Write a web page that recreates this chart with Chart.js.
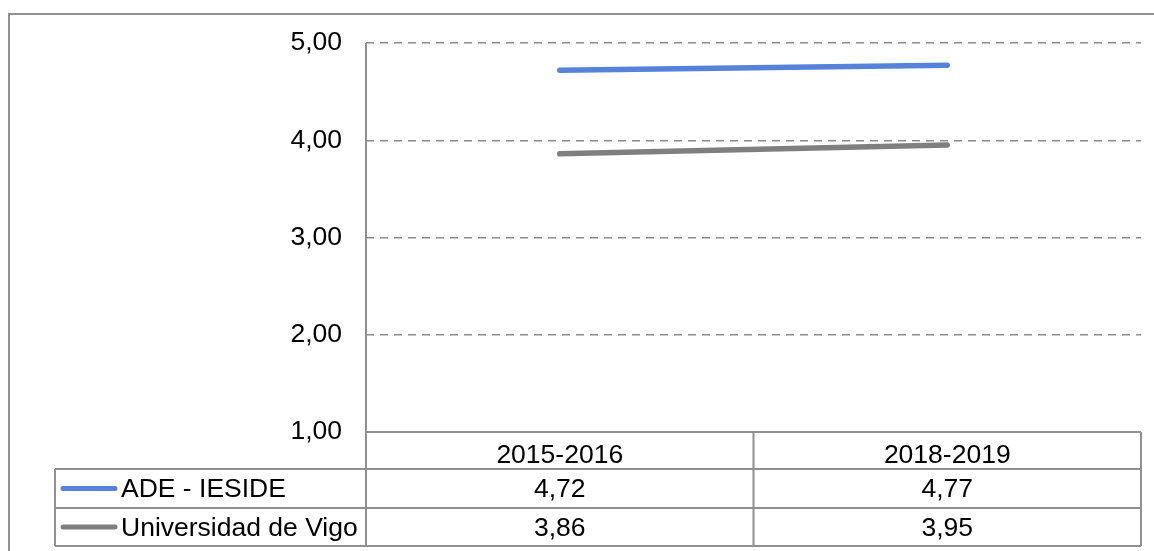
<!DOCTYPE html>
<html>
<head>
<meta charset="utf-8">
<script src="https://cdn.jsdelivr.net/npm/chart.js@4"></script>
<style>
  body { margin: 0; background: #fff; }
  #wrap { width: 1154px; height: 551px; }
</style>
</head>
<body>
<div id="wrap"><canvas id="myChart" width="1154" height="551"></canvas></div>
<script>
const categories = ['2015-2016', '2018-2019'];
const seriesNames = ['ADE - IESIDE', 'Universidad de Vigo'];
const adeIeside = [4.72, 4.77];
const uniVigo = [3.86, 3.95];
const yTicks = [1, 2, 3, 4, 5];

const colors = ['#5683d9', '#7f7f7f'];
const lineGray = '#909090';
const fontFamily = '"Liberation Sans", Arial, sans-serif';
const fontSize = 26.5;

function fmt(v) {
    return v.toFixed(2).replace('.', ',');
}

// draws the outer frame, the solid axis lines and the data table
const tablePlugin = {
    id: 'dataTable',
    beforeDraw(chart) {
        const ctx = chart.ctx;
        ctx.save();
        ctx.fillStyle = '#fff';
        ctx.fillRect(0, 0, chart.width, chart.height);
        ctx.strokeStyle = lineGray;
        ctx.lineWidth = 2;
        ctx.strokeRect(9, 14, chart.width + 20, chart.height + 20);
        ctx.restore();
    },
    afterDraw(chart) {
        const ctx = chart.ctx;
        const area = chart.chartArea;
        const x = chart.scales.x;
        const datasets = chart.data.datasets;

        const rows = [area.bottom, area.bottom + 37, area.bottom + 76, area.bottom + 114];
        const legendLeft = 55;

        // column boundaries from the category scale
        const cols = [area.left];
        for (let i = 0; i < categories.length - 1; i++) {
            cols.push((x.getPixelForTick(i) + x.getPixelForTick(i + 1)) / 2);
        }
        cols.push(area.right);

        ctx.save();
        ctx.strokeStyle = lineGray;
        ctx.lineWidth = 2;
        ctx.beginPath();
        // y axis line, through the table
        ctx.moveTo(area.left, area.top);
        ctx.lineTo(area.left, rows[3]);
        // top of table (1,00 line)
        ctx.moveTo(area.left, rows[0]);
        ctx.lineTo(area.right, rows[0]);
        // row lines
        for (let r = 1; r < rows.length; r++) {
            ctx.moveTo(legendLeft, rows[r]);
            ctx.lineTo(area.right, rows[r]);
        }
        // column lines
        for (let c = 1; c < cols.length; c++) {
            ctx.moveTo(cols[c], rows[0]);
            ctx.lineTo(cols[c], rows[3]);
        }
        ctx.moveTo(legendLeft, rows[1]);
        ctx.lineTo(legendLeft, rows[3]);
        ctx.stroke();

        ctx.fillStyle = '#000';
        ctx.font = fontSize + 'px ' + fontFamily;
        ctx.textAlign = 'center';
        ctx.textBaseline = 'alphabetic';
        categories.forEach((cat, i) => {
            ctx.fillText(cat, x.getPixelForTick(i), rows[0] + 31);
        });

        datasets.forEach((ds, d) => {
            const base = rows[d + 1] + 28;
            const mid = (rows[d + 1] + rows[d + 2]) / 2;
            ctx.textAlign = 'center';
            ds.data.forEach((v, i) => {
                ctx.fillText(fmt(v), x.getPixelForTick(i), base);
            });
            // legend key
            ctx.strokeStyle = ds.borderColor;
            ctx.lineWidth = 5;
            ctx.lineCap = 'round';
            ctx.beginPath();
            ctx.moveTo(63, mid);
            ctx.lineTo(115, mid);
            ctx.stroke();
            ctx.textAlign = 'left';
            ctx.fillText(ds.label, 121, base);
        });
        ctx.restore();
    }
};

const ctx = document.getElementById('myChart');

const chart = new Chart(ctx, {
    type: 'line',
    data: {
        labels: categories,
        datasets: [
            {
                label: seriesNames[0],
                data: adeIeside,
                borderColor: colors[0],
                backgroundColor: colors[0],
                borderWidth: 5.5,
                borderCapStyle: 'round',
                pointRadius: 0,
                tension: 0
            },
            {
                label: seriesNames[1],
                data: uniVigo,
                borderColor: colors[1],
                backgroundColor: colors[1],
                borderWidth: 5.5,
                borderCapStyle: 'round',
                pointRadius: 0,
                tension: 0
            }
        ]
    },
    options: {
        responsive: false,
        animation: false,
        layout: {
            padding: { top: 43, right: 13, bottom: 119, left: 0 }
        },
        plugins: {
            legend: { display: false },
            tooltip: { enabled: false }
        },
        scales: {
            x: {
                type: 'category',
                display: false,
                offset: true
            },
            y: {
                min: 1,
                max: 5,
                afterFit: (scale) => { scale.width = 366; },
                afterBuildTicks: (scale) => {
                    scale.ticks = yTicks.map(v => ({ value: v }));
                },
                border: { display: false, dash: [8, 6] },
                grid: {
                    drawTicks: false,
                    lineWidth: 1.5,
                    color: (c) => c.tick && c.tick.value === 1 ? 'rgba(0,0,0,0)' : '#8c8c8c'
                },
                ticks: {
                    padding: 24,
                    color: '#000',
                    font: { family: fontFamily, size: fontSize },
                    callback: (v) => fmt(v)
                }
            }
        }
    },
    plugins: [tablePlugin]
});
</script>
</body>
</html>
